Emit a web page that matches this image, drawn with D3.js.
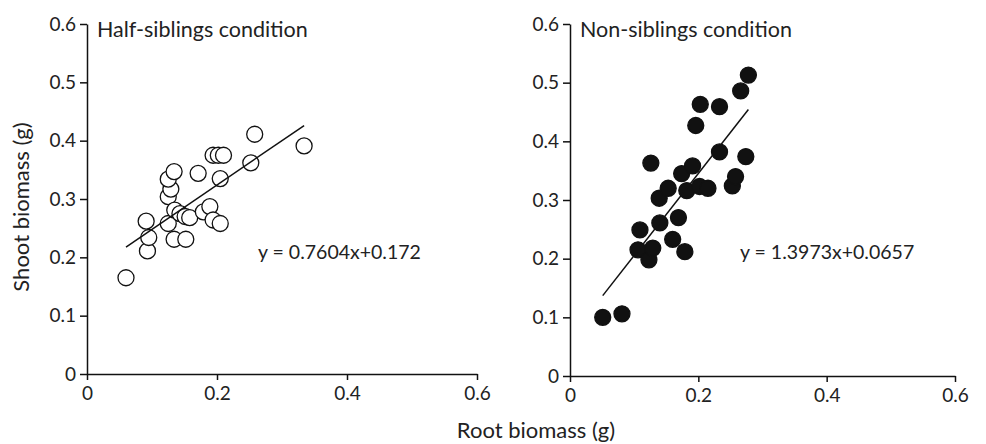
<!DOCTYPE html>
<html lang="en">
<head>
  <meta charset="utf-8">
  <title>Root vs shoot biomass</title>
  <script src="https://d3js.org/d3.v7.min.js"></script>
  <style>
    body { margin: 0; background: #fff; }
    svg text { font-family: Lato, "Open Sans", sans-serif; fill: #222; }
  </style>
</head>
<body>
<svg id="chart" width="986" height="444"></svg>
<script>
  // half-siblings condition (open circles)
  var halfRoot  = [0.060, 0.093, 0.095, 0.091, 0.134, 0.152, 0.125, 0.125, 0.129, 0.125, 0.134, 0.171, 0.135, 0.143,
                   0.151, 0.158, 0.179, 0.189, 0.194, 0.205, 0.205, 0.194, 0.202, 0.210, 0.258, 0.252, 0.334];
  var halfShoot = [0.165, 0.211, 0.234, 0.262, 0.231, 0.231, 0.258, 0.304, 0.317, 0.334, 0.347, 0.344, 0.281, 0.275,
                   0.270, 0.268, 0.278, 0.287, 0.264, 0.258, 0.335, 0.375, 0.375, 0.375, 0.411, 0.362, 0.391];
  // non-siblings condition (filled circles)
  var nonRoot   = [0.051, 0.081, 0.109, 0.106, 0.123, 0.129, 0.140, 0.139, 0.153, 0.160, 0.169, 0.179, 0.182, 0.202,
                   0.215, 0.253, 0.258, 0.174, 0.191, 0.126, 0.233, 0.274, 0.196, 0.203, 0.233, 0.266, 0.278];
  var nonShoot  = [0.100, 0.106, 0.249, 0.215, 0.198, 0.218, 0.261, 0.303, 0.320, 0.233, 0.270, 0.212, 0.316, 0.323,
                   0.320, 0.324, 0.340, 0.345, 0.358, 0.363, 0.382, 0.374, 0.427, 0.463, 0.459, 0.486, 0.513];

  var titles = ["Half-siblings condition", "Non-siblings condition"];
  var slopes = [0.7604, 1.3973];
  var intercepts = [0.172, 0.0657];
  var equations = ["y = 0.7604x+0.172", "y = 1.3973x+0.0657"];
  var axisTicks = [0, 0.1, 0.2, 0.3, 0.4, 0.5, 0.6];
  var xTicks = [0, 0.2, 0.4, 0.6];

  var panels = [
    { x: halfRoot, y: halfShoot, fill: "#fff", left: 87, right: 477, top: 24, bottom: 374 },
    { x: nonRoot,  y: nonShoot,  fill: "#111", left: 570, right: 955, top: 24, bottom: 376 }
  ];

  var svg = d3.select("#chart");
  var fmt = function(d) { return d === 0 ? "0" : d3.format(".1f")(d); };

  panels.forEach(function(p, k) {
    var x = d3.scaleLinear().domain([0, 0.6]).range([p.left, p.right]);
    var y = d3.scaleLinear().domain([0, 0.6]).range([p.bottom, p.top]);
    var g = svg.append("g");

    var xa = g.append("g").attr("transform", "translate(0," + p.bottom + ")")
      .call(d3.axisBottom(x).tickValues(xTicks).tickFormat(fmt).tickSize(6).tickSizeOuter(0).tickPadding(7));
    var ya = g.append("g").attr("transform", "translate(" + p.left + ",0)")
      .call(d3.axisLeft(y).tickValues(axisTicks).tickFormat(fmt).tickSize(7).tickSizeOuter(0).tickPadding(4));
    [xa, ya].forEach(function(a) {
      a.selectAll("path, line").attr("stroke", "#111").attr("stroke-width", 1.5);
      a.selectAll("text").style("font-size", "19px").attr("fill", "#222");
    });

    var pts = p.x.map(function(v, i) { return [v, p.y[i]]; });
    g.selectAll("circle").data(pts).enter().append("circle")
      .attr("cx", function(d) { return x(d[0]); })
      .attr("cy", function(d) { return y(d[1]); })
      .attr("r", 8)
      .attr("fill", p.fill)
      .attr("stroke", "#111")
      .attr("stroke-width", 1.3);

    var ext = d3.extent(p.x);
    g.append("line")
      .attr("x1", x(ext[0])).attr("y1", y(slopes[k] * ext[0] + intercepts[k]))
      .attr("x2", x(ext[1])).attr("y2", y(slopes[k] * ext[1] + intercepts[k]))
      .attr("stroke", "#111").attr("stroke-width", 1.5);

    g.append("text").attr("x", p.left + 10).attr("y", 37)
      .style("font-size", "21.5px").text(titles[k]);
    g.append("text").attr("x", k === 0 ? 258 : 740).attr("y", 259)
      .style("font-size", "19.5px").text(equations[k]);
  });

  svg.append("text").attr("transform", "translate(29,207) rotate(-90)")
    .attr("text-anchor", "middle").style("font-size", "22px").text("Shoot biomass (g)");
  svg.append("text").attr("x", 536).attr("y", 438)
    .attr("text-anchor", "middle").style("font-size", "22px").text("Root biomass (g)");
</script>
</body>
</html>
